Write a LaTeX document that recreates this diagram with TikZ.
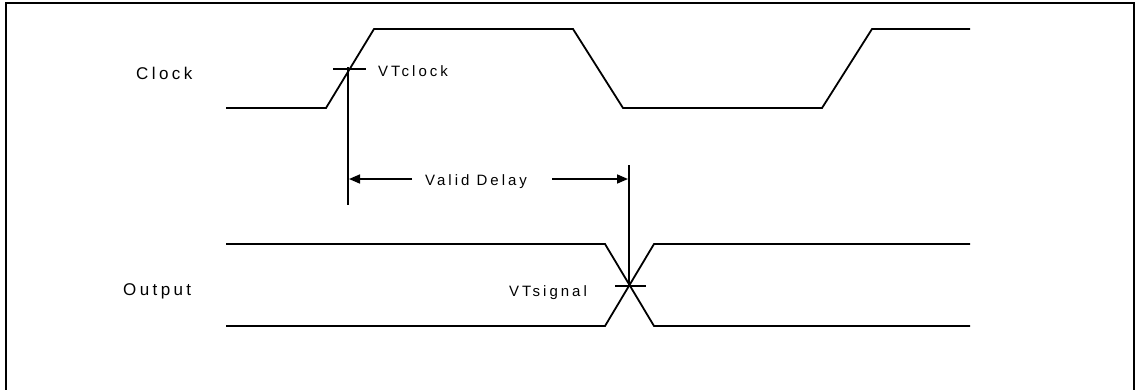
\documentclass[tikz,border=0pt]{standalone}
\usepackage{fontspec}
\setmainfont[LetterSpace=20]{Liberation Sans}
\usetikzlibrary{arrows.meta}

\tikzset{
    wave/.style={line width=1.8pt, line join=miter},
    marker/.style={line width=1.6pt},
    dimline/.style={line width=1.6pt, -{Triangle[length=11pt,width=9pt]}},
    sigtext/.style={font=\fontsize{17}{20}\selectfont, inner sep=0pt},
    lbltext/.style={font=\fontsize{15}{18}\selectfont, inner sep=0pt}
}

\begin{document}
\begin{tikzpicture}[x=1pt,y=-1pt]
    \useasboundingbox (0,0) rectangle (1139,389);
    \draw[line width=2.5pt] (6,395) -- (6,3) -- (1134,3) -- (1134,395);

    % clock waveform
    \draw[wave] (226,108) -- (326,108) -- (374,29) -- (573,29) -- (623,108) -- (822,108) -- (872,29) -- (970,29);

    % output waveform
    \draw[wave] (226,244) -- (605,244) -- (654,326) -- (970,326);
    \draw[wave] (226,326) -- (605,326) -- (654,244) -- (970,244);

    \node[sigtext, anchor=base west] (clk) at (136,79) {Clock};
    \node[sigtext, anchor=base west] (out) at (123,295) {Output};

    % threshold marks
    \coordinate (vtc) at (348,69);
    \coordinate (vts) at (629,286);
    \draw[marker] (333,69) -- (366,69);
    \draw[marker] (615,286) -- (646,286);
    \draw[marker] (vtc) ++(0,-2) -- (348,205);
    \draw[marker] (629,165) -- (vts);

    \node[lbltext, anchor=base west] (vtclk) at (378,76) {VTclock};
    \node[lbltext, anchor=base west] (vtsig) at (509,296) {VTsignal};

    % delay
    \node[lbltext, anchor=base west] (delay) at (425,185) {Valid Delay};
    \coordinate (dl) at (412,179);
    \coordinate (dr) at (552,179);
    \draw[dimline] (dl) -- (349,179);
    \draw[dimline] (dr) -- (628,179);
\end{tikzpicture}
\end{document}
